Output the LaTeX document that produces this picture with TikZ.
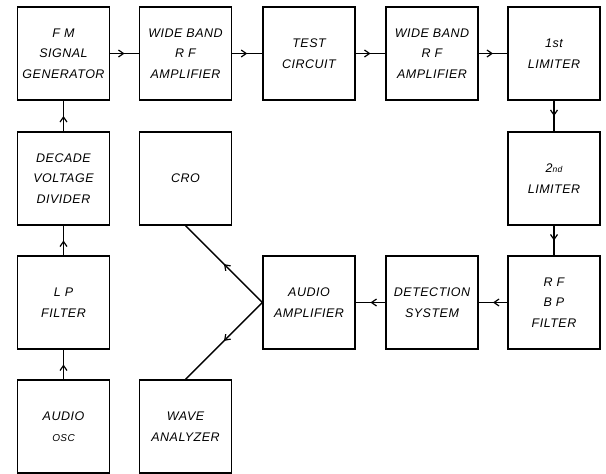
\documentclass[tikz,border=0pt]{standalone}
\usepackage{fontspec}
\setmainfont{Liberation Sans}
\newfontfamily\boxfont[LetterSpace=4]{Liberation Sans Italic}
\usetikzlibrary{arrows.meta,decorations.markings}
\tikzset{
  blk/.style={draw,line width=1.3pt,minimum width=92pt,minimum height=93pt,align=center,
    font=\boxfont\fontsize{12.5pt}{20.5pt}\selectfont,inner sep=0pt},
  flow/.style={line width=1.3pt,postaction={decorate},
    decoration={markings,mark=at position 0.5 with {\arrow{Straight Barb[length=5pt,width=7pt,line width=1.2pt]}}}}
}
\begin{document}
\begin{tikzpicture}[x=1pt,y=-1pt]
\useasboundingbox (0,0) rectangle (606,474);
\node[blk] (fm) at (63.5,53.5) {F M\\SIGNAL\\GENERATOR};
\node[blk] (wb1) at (185.5,53.5) {WIDE BAND\\R F\\AMPLIFIER};
\node[blk] (tc) at (309,53.5) {TEST\\CIRCUIT};
\node[blk] (wb2) at (432,53.5) {WIDE BAND\\R F\\AMPLIFIER};
\node[blk] (l1) at (554,53.5) {1st\\LIMITER};
\node[blk] (dvd) at (63.5,178.5) {DECADE\\VOLTAGE\\DIVIDER};
\node[blk] (cro) at (185.5,178.5) {CRO};
\node[blk] (l2) at (554,178.5) {2{\fontsize{8.5pt}{10pt}\selectfont nd}\\LIMITER};
\node[blk] (lp) at (63.5,302.5) {L P\\FILTER};
\node[blk] (aa) at (309,302.5) {AUDIO\\AMPLIFIER};
\node[blk] (det) at (432,302.5) {DETECTION\\SYSTEM};
\node[blk] (bp) at (554,302.5) {R F\\B P\\FILTER};
\node[blk] (osc) at (63.5,426.5) {AUDIO\\{\fontsize{10pt}{12pt}\selectfont OSC}};
\node[blk] (wa) at (185.5,426.5) {WAVE\\ANALYZER};
\coordinate (aal) at (aa.west);
\draw[flow] (fm) -- (wb1);
\draw[flow] (wb1) -- (tc);
\draw[flow] (tc) -- (wb2);
\draw[flow] (wb2) -- (l1);
\draw[flow] (l1) -- (l2);
\draw[flow] (l2) -- (bp);
\draw[flow] (bp) -- (det);
\draw[flow] (det) -- (aa);
\draw[flow] (aal) -- (cro.south);
\draw[flow] (aal) -- (wa.north);
\draw[flow] (osc) -- (lp);
\draw[flow] (lp) -- (dvd);
\draw[flow] (dvd) -- (fm);
\end{tikzpicture}
\end{document}
